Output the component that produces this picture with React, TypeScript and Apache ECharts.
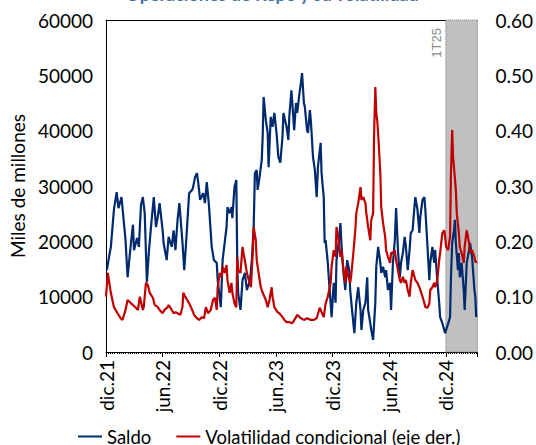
import React, { useEffect, useRef } from "react";
import * as echarts from "echarts";

// x-axis tick labels (every 6 months, starting at dic.21)
const xLabels = ["dic.21", "jun.22", "dic.22", "jun.23", "dic.23", "jun.24", "dic.24"];

// Saldo (miles de millones, eje izq.)
const saldo: [string, number][] = [
  ["2021-12-04", 14800], ["2021-12-11", 17200], ["2021-12-17", 19000], ["2021-12-27", 25700],
  ["2022-01-05", 28900], ["2022-01-11", 26000], ["2022-01-21", 28000], ["2022-01-27", 24400],
  ["2022-02-03", 20200], ["2022-02-09", 13500], ["2022-02-19", 19700], ["2022-02-25", 23000],
  ["2022-02-28", 18400], ["2022-03-10", 20600], ["2022-03-16", 19000], ["2022-03-23", 26600],
  ["2022-03-29", 28000], ["2022-04-04", 25100], ["2022-04-11", 12600], ["2022-04-17", 17900],
  ["2022-04-24", 22600], ["2022-05-03", 28000], ["2022-05-10", 22600], ["2022-05-16", 24400],
  ["2022-05-22", 26900], ["2022-06-01", 22000], ["2022-06-04", 19700], ["2022-06-14", 16600],
  ["2022-06-20", 20800], ["2022-06-30", 19000], ["2022-07-06", 22000], ["2022-07-12", 18400],
  ["2022-07-19", 23900], ["2022-07-25", 26900], ["2022-08-04", 19900], ["2022-08-10", 14800],
  ["2022-08-16", 19700], ["2022-08-20", 23300], ["2022-08-26", 28700], ["2022-09-05", 29300],
  ["2022-09-08", 29800], ["2022-09-14", 31600], ["2022-09-20", 32300], ["2022-09-24", 30700],
  ["2022-09-30", 27500], ["2022-10-10", 28700], ["2022-10-16", 26900], ["2022-10-22", 30700],
  ["2022-10-29", 26600], ["2022-11-07", 19000], ["2022-11-14", 16600], ["2022-11-23", 16100],
  ["2022-11-26", 13000], ["2022-12-06", 8100], ["2022-12-12", 16600], ["2022-12-25", 22600],
  ["2022-12-28", 26200], ["2023-01-04", 25100], ["2023-01-10", 26200], ["2023-01-13", 24200],
  ["2023-01-20", 29800], ["2023-01-26", 31100], ["2023-01-29", 16600], ["2023-02-01", 10700],
  ["2023-02-08", 7600], ["2023-02-14", 13000], ["2023-02-21", 14300], ["2023-02-27", 11200],
  ["2023-03-09", 13000], ["2023-03-15", 16600], ["2023-03-21", 22600], ["2023-03-25", 32300],
  ["2023-03-31", 32900], ["2023-04-03", 29300], ["2023-04-09", 31600], ["2023-04-16", 34700],
  ["2023-04-19", 38900], ["2023-04-22", 46100], ["2023-04-29", 41900], ["2023-05-05", 39600],
  ["2023-05-08", 33400], ["2023-05-15", 42500], ["2023-05-21", 40700], ["2023-05-27", 43200],
  ["2023-06-03", 39600], ["2023-06-09", 35200], ["2023-06-15", 34200], ["2023-06-22", 38900],
  ["2023-06-25", 43200], ["2023-07-05", 40700], ["2023-07-11", 38300], ["2023-07-14", 42500],
  ["2023-07-21", 47300], ["2023-07-24", 45000], ["2023-07-30", 40100], ["2023-08-05", 45000],
  ["2023-08-09", 43200], ["2023-08-15", 46100], ["2023-08-21", 48600], ["2023-08-25", 50400],
  ["2023-08-31", 45000], ["2023-09-03", 44300], ["2023-09-10", 40100], ["2023-09-13", 39600],
  ["2023-09-19", 43700], ["2023-09-22", 41900], ["2023-09-29", 35200], ["2023-10-05", 32900],
  ["2023-10-11", 28000], ["2023-10-15", 33400], ["2023-10-24", 37800], ["2023-10-27", 32300],
  ["2023-11-03", 28000], ["2023-11-06", 19700], ["2023-11-09", 20200], ["2023-11-16", 16100],
  ["2023-11-19", 13500], ["2023-11-25", 8900], ["2023-11-28", 6300], ["2023-12-05", 12500],
  ["2023-12-11", 8900], ["2023-12-14", 16600], ["2023-12-21", 19700], ["2023-12-27", 23300],
  ["2023-12-30", 19700], ["2024-01-06", 14300], ["2024-01-12", 11200], ["2024-01-18", 16600],
  ["2024-01-25", 14800], ["2024-01-28", 11200], ["2024-02-03", 7600], ["2024-02-10", 3400],
  ["2024-02-16", 8900], ["2024-02-22", 11700], ["2024-02-29", 7600], ["2024-03-03", 4000],
  ["2024-03-09", 7600], ["2024-03-16", 8900], ["2024-03-22", 13500], ["2024-03-25", 7600],
  ["2024-04-01", 5200], ["2024-04-04", 4000], ["2024-04-10", 2200], ["2024-04-17", 8900],
  ["2024-04-20", 15400], ["2024-04-26", 19000], ["2024-05-03", 16100], ["2024-05-06", 14300],
  ["2024-05-12", 15400], ["2024-05-19", 13500], ["2024-05-22", 14800], ["2024-05-28", 11200],
  ["2024-06-04", 12500], ["2024-06-07", 7600], ["2024-06-13", 16100], ["2024-06-19", 20200],
  ["2024-06-23", 26000], ["2024-06-29", 18400], ["2024-07-05", 13500], ["2024-07-09", 16100],
  ["2024-07-15", 17900], ["2024-07-21", 20800], ["2024-07-25", 19000], ["2024-07-31", 14800],
  ["2024-08-06", 18400], ["2024-08-10", 21500], ["2024-08-16", 22000], ["2024-08-22", 26200],
  ["2024-08-25", 28000], ["2024-09-01", 25700], ["2024-09-07", 21500], ["2024-09-10", 24400],
  ["2024-09-17", 27500], ["2024-09-23", 28000], ["2024-09-26", 25700], ["2024-10-03", 19000],
  ["2024-10-09", 13000], ["2024-10-12", 16100], ["2024-10-19", 19000], ["2024-10-25", 16100],
  ["2024-10-28", 18400], ["2024-11-04", 13000], ["2024-11-10", 8900], ["2024-11-13", 6300],
  ["2024-11-20", 5200], ["2024-11-26", 4000], ["2024-11-29", 3400], ["2024-12-09", 5200],
  ["2024-12-15", 6300], ["2024-12-18", 13500], ["2024-12-22", 19700], ["2024-12-28", 22000],
  ["2024-12-31", 23900], ["2025-01-03", 19700], ["2025-01-10", 14800], ["2025-01-13", 17900],
  ["2025-01-16", 13500], ["2025-01-22", 16100], ["2025-01-29", 11200], ["2025-02-01", 7600],
  ["2025-02-07", 16100], ["2025-02-14", 18400], ["2025-02-17", 19700], ["2025-02-23", 17200],
  ["2025-03-02", 11200], ["2025-03-05", 9900], ["2025-03-08", 6300],
];

// Volatilidad condicional (eje der.)
const volatilidad: [string, number][] = [
  ["2021-12-01", 0.1], ["2021-12-07", 0.143], ["2021-12-17", 0.107], ["2021-12-27", 0.081],
  ["2022-01-08", 0.07], ["2022-01-18", 0.061], ["2022-01-24", 0.058], ["2022-02-03", 0.076],
  ["2022-02-09", 0.094], ["2022-02-19", 0.088], ["2022-02-25", 0.085], ["2022-03-04", 0.081],
  ["2022-03-13", 0.076], ["2022-03-19", 0.1], ["2022-03-29", 0.076], ["2022-04-01", 0.081],
  ["2022-04-08", 0.125], ["2022-04-14", 0.121], ["2022-04-20", 0.107], ["2022-04-30", 0.098],
  ["2022-05-06", 0.085], ["2022-05-16", 0.081], ["2022-05-22", 0.076], ["2022-06-01", 0.07],
  ["2022-06-07", 0.076], ["2022-06-17", 0.081], ["2022-06-20", 0.085], ["2022-06-30", 0.076],
  ["2022-07-06", 0.07], ["2022-07-12", 0.072], ["2022-07-19", 0.07], ["2022-07-28", 0.067],
  ["2022-08-04", 0.081], ["2022-08-07", 0.107], ["2022-08-13", 0.1], ["2022-08-20", 0.094],
  ["2022-08-26", 0.088], ["2022-09-05", 0.076], ["2022-09-11", 0.067], ["2022-09-20", 0.061],
  ["2022-09-27", 0.058], ["2022-10-06", 0.063], ["2022-10-13", 0.061], ["2022-10-19", 0.081],
  ["2022-10-26", 0.07], ["2022-11-04", 0.076], ["2022-11-11", 0.094], ["2022-11-17", 0.098],
  ["2022-11-23", 0.076], ["2022-11-26", 0.117], ["2022-12-03", 0.143], ["2022-12-09", 0.136],
  ["2022-12-12", 0.154], ["2022-12-19", 0.143], ["2022-12-25", 0.157], ["2022-12-28", 0.13],
  ["2023-01-04", 0.107], ["2023-01-10", 0.125], ["2023-01-13", 0.107], ["2023-01-20", 0.088],
  ["2023-01-26", 0.081], ["2023-01-29", 0.172], ["2023-02-01", 0.148], ["2023-02-08", 0.143],
  ["2023-02-14", 0.19], ["2023-02-17", 0.179], ["2023-02-24", 0.154], ["2023-02-27", 0.143],
  ["2023-03-05", 0.13], ["2023-03-12", 0.117], ["2023-03-18", 0.179], ["2023-03-21", 0.226],
  ["2023-03-28", 0.202], ["2023-03-31", 0.166], ["2023-04-06", 0.143], ["2023-04-13", 0.117],
  ["2023-04-19", 0.107], ["2023-04-29", 0.094], ["2023-05-05", 0.081], ["2023-05-11", 0.094],
  ["2023-05-18", 0.117], ["2023-05-21", 0.1], ["2023-05-27", 0.081], ["2023-06-06", 0.072],
  ["2023-06-12", 0.07], ["2023-06-22", 0.063], ["2023-06-28", 0.058], ["2023-07-05", 0.054],
  ["2023-07-14", 0.054], ["2023-07-24", 0.052], ["2023-08-05", 0.063], ["2023-08-09", 0.067],
  ["2023-08-21", 0.061], ["2023-08-31", 0.058], ["2023-09-10", 0.061], ["2023-09-22", 0.058],
  ["2023-10-02", 0.058], ["2023-10-11", 0.061], ["2023-10-21", 0.08], ["2023-10-27", 0.072],
  ["2023-11-03", 0.063], ["2023-11-09", 0.088], ["2023-11-16", 0.1], ["2023-11-25", 0.125],
  ["2023-11-28", 0.154], ["2023-12-05", 0.184], ["2023-12-11", 0.172], ["2023-12-14", 0.226],
  ["2023-12-21", 0.202], ["2023-12-27", 0.172], ["2023-12-30", 0.184], ["2024-01-06", 0.148],
  ["2024-01-12", 0.125], ["2024-01-15", 0.154], ["2024-01-22", 0.136], ["2024-01-28", 0.125],
  ["2024-01-31", 0.136], ["2024-02-07", 0.179], ["2024-02-13", 0.22], ["2024-02-16", 0.251],
  ["2024-02-22", 0.269], ["2024-02-29", 0.298], ["2024-03-03", 0.275], ["2024-03-09", 0.28],
  ["2024-03-16", 0.269], ["2024-03-19", 0.251], ["2024-03-25", 0.226], ["2024-04-01", 0.202],
  ["2024-04-04", 0.238], ["2024-04-10", 0.251], ["2024-04-13", 0.389], ["2024-04-17", 0.479],
  ["2024-04-20", 0.432], ["2024-04-23", 0.419], ["2024-04-26", 0.395], ["2024-05-03", 0.323],
  ["2024-05-06", 0.262], ["2024-05-12", 0.233], ["2024-05-19", 0.208], ["2024-05-22", 0.184],
  ["2024-05-28", 0.172], ["2024-06-04", 0.161], ["2024-06-07", 0.179], ["2024-06-13", 0.179],
  ["2024-06-19", 0.184], ["2024-06-23", 0.166], ["2024-06-29", 0.148], ["2024-07-05", 0.13],
  ["2024-07-09", 0.125], ["2024-07-15", 0.136], ["2024-07-21", 0.125], ["2024-07-25", 0.13],
  ["2024-07-31", 0.112], ["2024-08-06", 0.1], ["2024-08-10", 0.125], ["2024-08-16", 0.148],
  ["2024-08-22", 0.136], ["2024-08-25", 0.13], ["2024-09-01", 0.125], ["2024-09-07", 0.117],
  ["2024-09-10", 0.112], ["2024-09-17", 0.1], ["2024-09-23", 0.088], ["2024-09-26", 0.081],
  ["2024-10-03", 0.08], ["2024-10-09", 0.088], ["2024-10-12", 0.112], ["2024-10-19", 0.117],
  ["2024-10-25", 0.125], ["2024-10-28", 0.117], ["2024-11-04", 0.13], ["2024-11-10", 0.166],
  ["2024-11-13", 0.179], ["2024-11-20", 0.215], ["2024-11-26", 0.22], ["2024-11-29", 0.208],
  ["2024-12-02", 0.19], ["2024-12-09", 0.184], ["2024-12-12", 0.197], ["2024-12-15", 0.208],
  ["2024-12-18", 0.323], ["2024-12-22", 0.401], ["2024-12-25", 0.352], ["2024-12-28", 0.334],
  ["2025-01-03", 0.293], ["2025-01-06", 0.251], ["2025-01-13", 0.215], ["2025-01-16", 0.19],
  ["2025-01-22", 0.179], ["2025-01-29", 0.161], ["2025-02-01", 0.19], ["2025-02-07", 0.22],
  ["2025-02-14", 0.197], ["2025-02-17", 0.179], ["2025-02-23", 0.184], ["2025-03-02", 0.172],
  ["2025-03-05", 0.163], ["2025-03-11", 0.163],
];

const shadeStart = "2024-12-01";
const axisEnd = "2025-03-12";
const shadeLabel = "1T25";
const titleText = "Operaciones de Repo y su volatilidad";
const FONT = "Lato, 'Open Sans', sans-serif";

// months elapsed since 1 Dec 2021 (the "dic.21" tick)
function toMonths(d: string): number {
  const [y, m, day] = d.split("-").map(Number);
  const dim = new Date(Date.UTC(y, m, 0)).getUTCDate();
  return (y - 2021) * 12 + (m - 12) + (day - 1) / dim;
}

export default function App() {
  const ref = useRef<HTMLDivElement>(null);
  useEffect(() => {
    if (!ref.current) return;
    const chart = echarts.init(ref.current, undefined, { renderer: "svg" });
    const xMax = toMonths(axisEnd);
    const xS = toMonths(shadeStart);
    const xAxisBase = { type: "value" as const, min: 0, max: xMax, interval: 6 };
    chart.setOption({
      animation: false,
      backgroundColor: "#ffffff",
      grid: { left: 105, right: 54, top: 20, bottom: 93 },
      legend: {
        left: 73,
        top: 422,
        icon: "rect",
        itemWidth: 24,
        itemHeight: 2,
        itemGap: 25,
        textStyle: { fontFamily: FONT, fontSize: 18.5, color: "#000" },
        data: ["Saldo", "Volatilidad condicional (eje der.)"],
      },
      xAxis: [
        {
          ...xAxisBase,
          position: "bottom",
          axisLine: { show: true, onZero: false, lineStyle: { color: "#000", width: 1 } },
          axisTick: { show: true, length: 5, lineStyle: { color: "#000" } },
          minorTick: { show: true, splitNumber: 26, length: 2, lineStyle: { color: "#000" } },
          splitLine: { show: false },
          axisLabel: {
            rotate: 90,
            margin: 8,
            fontFamily: FONT,
            fontSize: 19,
            color: "#000",
            showMaxLabel: false,
            formatter: (v: number) => {
              const i = Math.round(v / 6);
              return Math.abs(v - i * 6) < 1e-6 && xLabels[i] ? xLabels[i] : "";
            },
          },
        },
        {
          ...xAxisBase,
          position: "top",
          axisLine: { show: true, onZero: false, lineStyle: { color: "#000", width: 1 } },
          axisTick: { show: false },
          axisLabel: { show: false },
          splitLine: { show: false },
        },
      ],
      yAxis: [
        {
          type: "value",
          min: 0,
          max: 60000,
          interval: 10000,
          name: "Miles de millones",
          nameLocation: "middle",
          nameGap: 76,
          nameTextStyle: { fontFamily: FONT, fontSize: 19, color: "#000" },
          axisLine: { show: true, lineStyle: { color: "#000", width: 1 } },
          axisTick: { show: false },
          splitLine: { show: false },
          axisLabel: {
            fontFamily: FONT,
            fontSize: 19,
            color: "#000",
            margin: 13,
            formatter: (v: number) => String(v),
          },
        },
        {
          type: "value",
          min: 0,
          max: 0.6,
          interval: 0.1,
          position: "right",
          axisLine: { show: false },
          axisTick: { show: false },
          splitLine: { show: false },
          axisLabel: {
            fontFamily: FONT,
            fontSize: 19,
            color: "#000",
            margin: 18,
            formatter: (v: number) => v.toFixed(2),
          },
        },
      ],
      series: [
        {
          name: "Saldo",
          type: "line",
          yAxisIndex: 0,
          showSymbol: false,
          color: "#002A6E",
          lineStyle: { width: 2.2, color: "#002A6E" },
          data: saldo.map(([d, v]) => [toMonths(d), v]),
          markArea: {
            silent: true,
            itemStyle: {
              color: "#C0C0C0",
              borderColor: "#7F7F7F",
              borderWidth: 1,
              borderType: "dotted",
            },
            data: [[{ xAxis: xS }, { xAxis: xMax }]],
          },
        },
        {
          name: "Volatilidad condicional (eje der.)",
          type: "line",
          yAxisIndex: 1,
          showSymbol: false,
          color: "#C00000",
          lineStyle: { width: 2.2, color: "#C00000" },
          data: volatilidad.map(([d, v]) => [toMonths(d), v]),
        },
      ],
    });
    const px = chart.convertToPixel({ xAxisIndex: 0 }, xS) as number;
    chart.setOption({
      graphic: [
        {
          type: "text",
          x: px - 9,
          y: 28,
          rotation: Math.PI / 2,
          style: {
            text: shadeLabel,
            fill: "#8C8C8C",
            fontFamily: "'Liberation Sans', Arial, sans-serif",
            fontSize: 13,
            align: "right",
            verticalAlign: "middle",
          },
        },
        {
          type: "text",
          x: 272,
          y: 3,
          style: {
            text: titleText,
            fill: "#4A6FA5",
            fontFamily: FONT,
            fontWeight: "bold",
            fontSize: 18,
            align: "center",
            verticalAlign: "bottom",
          },
        },
      ],
    });
    return () => chart.dispose();
  }, []);
  return (
    <div
      ref={ref}
      style={{ position: "absolute", left: 0, top: 0, width: 536, height: 445 }}
    />
  );
}
